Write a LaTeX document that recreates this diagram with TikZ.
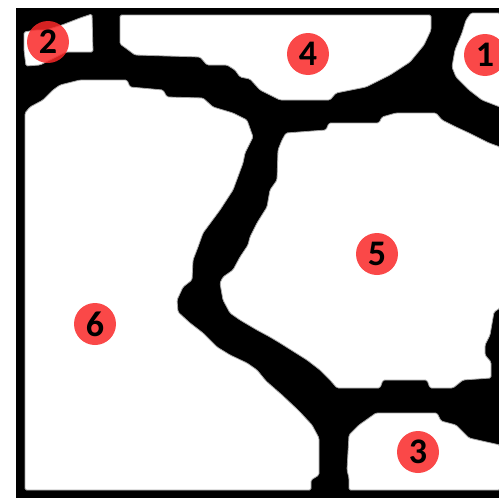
\documentclass[tikz,border=0pt]{standalone}
\usepackage{fontspec}
\setmainfont{Carlito}
\definecolor{markred}{RGB}{250,40,40}
\tikzset{
  cell/.style={fill=white, draw=black!35, line width=0.8pt, rounded corners=1.5pt},
  cellmark/.style={circle, fill=markred, fill opacity=0.85, text opacity=1, text=black,
    minimum size=42pt, inner sep=0pt, font=\fontsize{36}{36}\selectfont\bfseries}
}
\begin{document}
\begin{tikzpicture}[x=1pt,y=-1pt]
\useasboundingbox (0,0) rectangle (499,498);
\fill[white] (0,0) rectangle (499,498);
\fill[black] (16,8) rectangle (499,498);
% cell 2
\path[cell] (24,32) -- (36,30) -- (46,30) -- (62,25) -- (80,18) -- (92,14) -- (93,52) -- (66,52) -- (50,60) -- (40,65) -- (26,66) -- (24,50) -- cycle;
% cell 4
\path[cell] (120,15) -- (431,15) -- (431,30) -- (424,45) -- (410,62) -- (390,75) -- (366,87) -- (336,93) -- (330,100) -- (280,100) -- (260,90) -- (250,79) -- (240,77) -- (235,70) -- (227,65) -- (207,65) -- (200,57) -- (135,55) -- (127,49) -- (120,44) -- cycle;
% cell 1
\path[cell] (471,13) -- (500,13) -- (500,107) -- (482,100) -- (469,90) -- (456,77) -- (452,67) -- (455,50) -- (462,33) -- (466,20) -- cycle;
% cell 6
\path[cell] (25,113) -- (30,107) -- (43,100) -- (53,90) -- (60,85) -- (80,80) -- (127,80) -- (130,87) -- (163,90) -- (167,97) -- (203,98) -- (213,107) -- (233,113) -- (247,120) -- (253,137) -- (245,153) -- (243,163) -- (233,190) -- (220,210) -- (203,233) -- (198,247) -- (193,260) -- (192,280) -- (183,287) -- (177,300) -- (178,312) -- (190,323) -- (203,333) -- (217,347) -- (230,355) -- (247,363) -- (257,370) -- (266,381) -- (282,395) -- (299,411) -- (312,425) -- (319,438) -- (319,475) -- (311,480) -- (311,490) -- (25,490) -- cycle;
% cell 5
\path[cell] (282,140) -- (286,133) -- (326,130) -- (329,123) -- (379,123) -- (382,117) -- (396,113) -- (436,113) -- (442,120) -- (456,127) -- (469,133) -- (489,143) -- (500,147) -- (500,308) -- (494,312) -- (490,335) -- (485,345) -- (485,355) -- (491,362) -- (491,378) -- (463,380) -- (453,388) -- (430,388) -- (427,380) -- (383,380) -- (380,388) -- (337,388) -- (330,380) -- (320,370) -- (307,360) -- (280,343) -- (270,337) -- (257,330) -- (240,320) -- (230,313) -- (223,300) -- (220,283) -- (223,277) -- (233,270) -- (240,257) -- (248,245) -- (250,237) -- (257,223) -- (267,207) -- (270,190) -- (277,180) -- (278,150) -- cycle;
% cell 3
\path[cell] (349,490) -- (349,478) -- (347,470) -- (349,435) -- (359,425) -- (376,413) -- (437,413) -- (441,421) -- (456,425) -- (469,438) -- (482,441) -- (500,445) -- (500,490) -- cycle;
% markers
\node[cellmark] (m1) at (485,55) {1};
\node[cellmark] (m2) at (48,42) {2};
\node[cellmark] (m3) at (418,452) {3};
\node[cellmark] (m4) at (308,54) {4};
\node[cellmark] (m5) at (377,254) {5};
\node[cellmark] (m6) at (95,324) {6};
\end{tikzpicture}
\end{document}
